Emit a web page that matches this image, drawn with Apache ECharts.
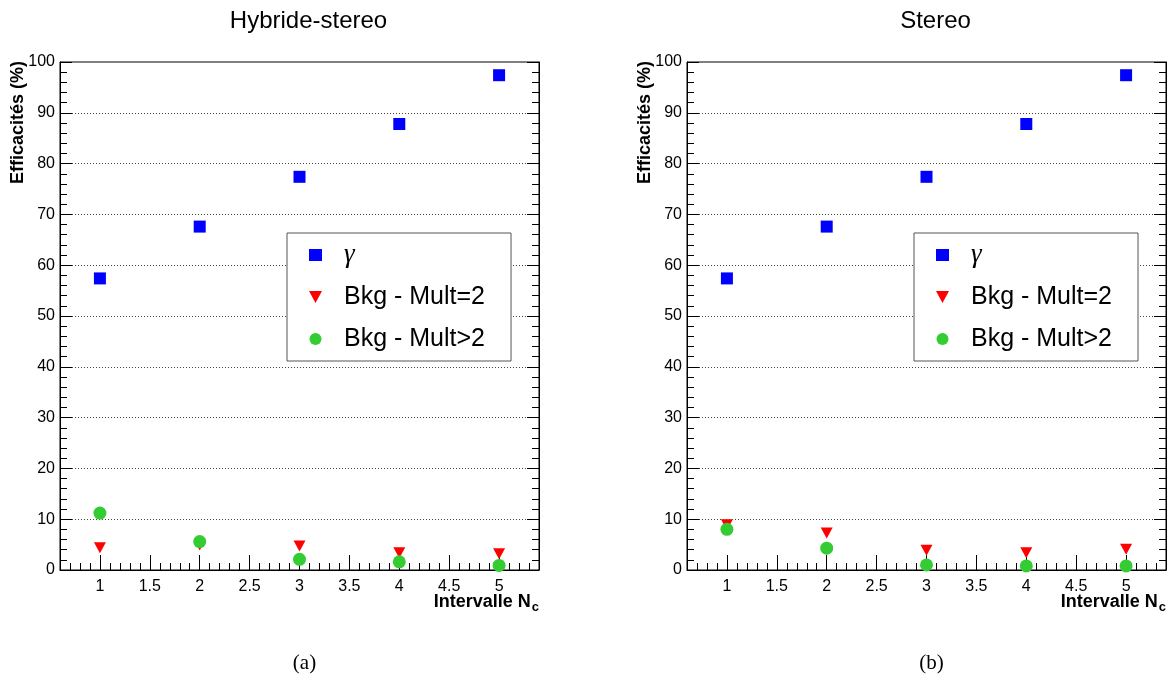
<!DOCTYPE html>
<html>
<head>
<meta charset="utf-8">
<script src="https://cdn.jsdelivr.net/npm/echarts@6/dist/echarts.min.js"></script>
<style>
html,body{margin:0;padding:0;background:#fff;}
#c{width:1176px;height:684px;}
</style>
</head>
<body>
<div id="c"></div>
<script>
// ---- data ----
const intervals = [1, 2, 3, 4, 5];
const panelTitles = ['Hybride-stereo', 'Stereo'];
const panelCaptions = ['(a)', '(b)'];
const seriesNames = ['γ', 'Bkg - Mult=2', 'Bkg - Mult>2'];
const hybGamma = [57.4, 67.6, 77.4, 87.8, 97.4];
const hybMult2 = [4.4, 4.9, 4.7, 3.4, 3.2];
const hybMultGt2 = [11.2, 5.6, 2.1, 1.6, 0.9];
const stGamma = [57.4, 67.6, 77.4, 87.8, 97.4];
const stMult2 = [8.9, 7.3, 3.9, 3.4, 4.1];
const stMultGt2 = [8.0, 4.3, 1.0, 0.8, 0.8];
const xMajorTicks = [1, 1.5, 2, 2.5, 3, 3.5, 4, 4.5, 5];
const xMinorTicks = [0.7,0.8,0.9,1.1,1.2,1.3,1.4,1.6,1.7,1.8,1.9,2.1,2.2,2.3,2.4,2.6,2.7,2.8,2.9,3.1,3.2,3.3,3.4,3.6,3.7,3.8,3.9,4.1,4.2,4.3,4.4,4.6,4.7,4.8,4.9,5.1,5.2,5.3];
const yTickLabels = [0, 10, 20, 30, 40, 50, 60, 70, 80, 90, 100];

const panelData = [
  [hybGamma, hybMult2, hybMultGt2],
  [stGamma, stMult2, stMultGt2]
];

// ---- layout ----
const grids = [
  {left: 60, top: 62, width: 479, height: 508},
  {left: 687, top: 62, width: 479, height: 508}
];
const styles = [
  {symbol: 'rect', symbolSize: 12, color: '#0000ff', rotate: 0, icon: 'rect'},
  {symbol: 'triangle', symbolSize: [12, 11], color: '#ff0000', rotate: 180, icon: 'path://M0,0L12,0L6,11Z'},
  {symbol: 'circle', symbolSize: 13, color: '#33cc33', rotate: 0, icon: 'circle'}
];

const option = {
  animation: false,
  backgroundColor: '#fff',
  grid: [], xAxis: [], yAxis: [], series: [], legend: [], title: [], graphic: []
};

grids.forEach((g, p) => {
  option.grid.push({left: g.left, top: g.top, width: g.width, height: g.height,
    show: true, borderColor: '#000', borderWidth: 1, backgroundColor: 'transparent'});
  // major x axis
  option.xAxis.push({
    type: 'value', gridIndex: p, min: 0.6, max: 5.4, position: 'bottom',
    axisLine: {show: true, onZero: false, lineStyle: {color: '#000', width: 1}},
    axisTick: {show: true, inside: true, length: 15, customValues: xMajorTicks, lineStyle: {color: '#000'}},
    axisLabel: {show: true, customValues: xMajorTicks, margin: 9, color: '#000', fontSize: 16,
      fontFamily: 'Liberation Sans'},
    splitLine: {show: false}
  });
  // minor x ticks
  option.xAxis.push({
    type: 'value', gridIndex: p, min: 0.6, max: 5.4, position: 'bottom', offset: 0,
    axisLine: {show: false, onZero: false},
    axisTick: {show: true, inside: true, length: 7, customValues: xMinorTicks, lineStyle: {color: '#000'}},
    axisLabel: {show: false},
    splitLine: {show: false}
  });
  option.yAxis.push({
    type: 'value', gridIndex: p, min: 0, max: 100, interval: 10, position: 'left',
    axisLine: {show: true, lineStyle: {color: '#000'}},
    axisTick: {show: true, inside: true, length: 12, lineStyle: {color: '#000'}},
    minorTick: {show: true, splitNumber: 5, length: 7, lineStyle: {color: '#000'}},
    axisLabel: {show: true, margin: 5, color: '#000', fontSize: 16, fontFamily: 'Liberation Sans',
      customValues: yTickLabels},
    splitLine: {show: true, showMinLine: false, showMaxLine: false,
      lineStyle: {type: [1, 2], color: '#444', width: 1}}
  });
  option.yAxis.push({
    type: 'value', gridIndex: p, min: 0, max: 100, interval: 10, position: 'right',
    axisLine: {show: true, lineStyle: {color: '#000'}},
    axisTick: {show: true, inside: true, length: 12, lineStyle: {color: '#000'}},
    minorTick: {show: true, splitNumber: 5, length: 7, lineStyle: {color: '#000'}},
    axisLabel: {show: false},
    splitLine: {show: false}
  });
  panelData[p].forEach((vals, s) => {
    const st = styles[s];
    option.series.push({
      name: seriesNames[s], type: 'scatter', xAxisIndex: p * 2, yAxisIndex: p * 2,
      data: intervals.map((x, i) => [x, vals[i]]),
      symbol: st.symbol, symbolSize: st.symbolSize, symbolRotate: st.rotate,
      itemStyle: {color: st.color, opacity: 1}, clip: false, z: 5 + s
    });
  });
  option.legend.push({
    orient: 'vertical', left: g.left + 227, top: 233,
    data: seriesNames.map((n, s) => ({name: n, icon: styles[s].icon})),
    padding: [7, 26, 7, 22], itemGap: 12, itemWidth: 13, itemHeight: 12,
    symbolKeepAspect: true, symbolRotate: 0,
    backgroundColor: '#fff', borderColor: '#555', borderWidth: 1, borderRadius: 0,
    selectedMode: false, z: 10,
    formatter: n => n === 'γ' ? '{g|γ}' : '{t|' + n + '}',
    textStyle: {
      color: '#000', fontSize: 25, lineHeight: 30, fontFamily: 'Liberation Sans',
      rich: {
        g: {fontFamily: 'Liberation Serif', fontStyle: 'italic', fontSize: 27, lineHeight: 30, color: '#000', padding: [0, 0, 0, 17]},
        t: {fontFamily: 'Liberation Sans', fontSize: 25, lineHeight: 30, color: '#000', padding: [0, 0, 0, 17]}
      }
    }
  });
  const cx = g.left + g.width / 2;
  option.title.push({
    text: panelTitles[p], left: cx + 4, top: 4, textAlign: 'center',
    textStyle: {fontFamily: 'Liberation Sans', fontWeight: 'normal', fontSize: 24, color: '#000'}
  });
  option.title.push({
    text: panelCaptions[p], left: cx, top: 648, textAlign: 'center',
    textStyle: {fontFamily: 'Liberation Serif', fontWeight: 'normal', fontSize: 21, color: '#000'}
  });
  option.graphic.push({
    type: 'text', x: g.left + g.width, y: 602, z: 20,
    style: {
      text: '{n|Intervalle N}{s|c}', align: 'right', verticalAlign: 'middle',
      rich: {
        n: {fontFamily: 'Liberation Sans', fontWeight: 'bold', fontSize: 18, fill: '#000'},
        s: {fontFamily: 'Liberation Sans', fontWeight: 'bold', fontSize: 13, fill: '#000', padding: [10, 0, 0, 1]}
      }
    }
  });
  option.graphic.push({
    type: 'text', x: g.left - 42, y: 61, rotation: Math.PI / 2, z: 20,
    style: {
      text: 'Efficacités (%)', align: 'right', verticalAlign: 'middle',
      fontFamily: 'Liberation Sans', fontWeight: 'bold', fontSize: 18, fill: '#000'
    }
  });
});

const chart = echarts.init(document.getElementById('c'), null, {renderer: 'canvas'});
chart.setOption(option);
</script>
</body>
</html>
